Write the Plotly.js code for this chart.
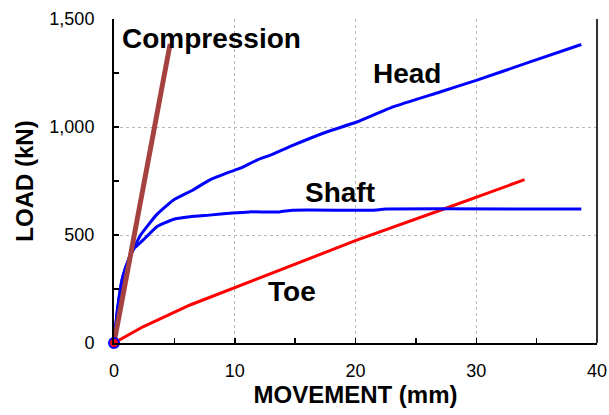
<!DOCTYPE html>
<html>
<head>
<meta charset="utf-8">
<script src="https://cdn.plot.ly/plotly-3.0.1.min.js"></script>
<style>html,body{margin:0;padding:0;background:#fff;}#chart{width:609px;height:415px;}</style>
</head>
<body>
<div id="chart"></div>
<script>
// Data
const compressionX = [0, 2.2, 4.65];
const compressionY = [0, 655, 1385];

const headX = [0, 0.3, 0.7, 1.2, 1.7, 2.2, 3.5, 4.9, 6.5, 7.9, 9.6, 10.4, 11.8, 12.9, 14.8, 17.6, 20.1, 23.1, 27.0, 30.0, 34.4, 38.7];
const headY = [0, 160, 300, 385, 445, 500, 592, 661, 707, 754, 792, 808, 846, 869, 915, 977, 1023, 1093, 1162, 1216, 1300, 1382];

const shaftX = [0, 0.3, 0.7, 1.2, 1.7, 2.4, 3.6, 4.9, 6.3, 7.9, 9.8, 11.2, 13.7, 14.8, 21.4, 22.5, 38.7];
const shaftY = [0, 160, 300, 385, 440, 476, 540, 572, 584, 592, 602, 607, 607, 615, 615, 620, 620];

const toeX = [0, 2.4, 6.3, 9.8, 12.9, 20.1, 27.2, 34.0];
const toeY = [0, 75, 176, 253, 319, 476, 618, 756];

const originX = [0];
const originY = [0];

const labelTexts = ["Compression", "Head", "Shaft", "Toe"];
const labelX = [8.08, 24.27, 18.75, 14.75];
const labelY = [1410, 1247, 699, 237];

const xTickVals = [0, 10, 20, 30, 40];
const yTickVals = [0, 500, 1000, 1500];
const yTickText = ["0", "500", "1,000", "1,500"];

const FONT = "Arial, 'Liberation Sans', sans-serif";

const traces = [
  {x: toeX, y: toeY, mode: "lines", line: {color: "#ff0000", width: 3}, hoverinfo: "skip"},
  {x: shaftX, y: shaftY, mode: "lines", line: {color: "#0000ff", width: 3, shape: "spline", smoothing: 0.4}, hoverinfo: "skip"},
  {x: headX, y: headY, mode: "lines", line: {color: "#0000ff", width: 3, shape: "spline", smoothing: 0.4}, hoverinfo: "skip"},
  {x: compressionX, y: compressionY, mode: "lines", line: {color: "#a5423f", width: 5}, hoverinfo: "skip"},
  {x: originX, y: originY, mode: "markers", marker: {color: "#ff0000", size: 10, line: {color: "#0000ff", width: 2}}, cliponaxis: false, hoverinfo: "skip"}
];

const annotations = labelTexts.map((t, i) => ({
  x: labelX[i], y: labelY[i], xref: "x", yref: "y", text: "<b>" + t + "</b>", showarrow: false,
  xanchor: "center", yanchor: "middle",
  font: {family: FONT, size: 28, color: "#000"}
}));

const layout = {
  width: 609, height: 415,
  margin: {l: 114, r: 12, t: 19, b: 72},
  paper_bgcolor: "#fff", plot_bgcolor: "#fff",
  showlegend: false,
  font: {family: FONT, color: "#000"},
  xaxis: {
    range: [0, 40], tickvals: xTickVals, ticks: "inside", ticklen: 5, tickwidth: 1.5, tickcolor: "#000",
    showline: true, linecolor: "#000", linewidth: 2, zeroline: false,
    showgrid: true, gridcolor: "#b8b8b8", griddash: "dot", gridwidth: 1,
    minor: {dtick: 5, ticks: "inside", ticklen: 5, tickwidth: 1.5, tickcolor: "#000", showgrid: false},
    tickfont: {family: FONT, size: 18, color: "#000"}, ticklabelstandoff: 10,
    title: {text: "<b>MOVEMENT (mm)</b>", font: {family: FONT, size: 24, color: "#000"}, standoff: 1},
    fixedrange: true
  },
  yaxis: {
    range: [0, 1500], tickvals: yTickVals, ticktext: yTickText, ticks: "inside", ticklen: 5, tickwidth: 1.5, tickcolor: "#000",
    showline: true, linecolor: "#000", linewidth: 2, zeroline: false,
    showgrid: true, gridcolor: "#b8b8b8", griddash: "dot", gridwidth: 1,
    minor: {dtick: 250, ticks: "inside", ticklen: 5, tickwidth: 1.5, tickcolor: "#000", showgrid: false},
    tickfont: {family: FONT, size: 18, color: "#000"}, ticklabelstandoff: 14,
    title: {text: "<b>LOAD (kN)</b>", font: {family: FONT, size: 24, color: "#000"}, standoff: 9},
    fixedrange: true
  },
  shapes: [
    {type: "line", xref: "paper", yref: "paper", x0: 1, x1: 1, y0: 0, y1: 1, line: {color: "#333", width: 2}}
  ],
  annotations: annotations
};

Plotly.newPlot("chart", traces, layout, {displayModeBar: false, staticPlot: true});
</script>
</body>
</html>
